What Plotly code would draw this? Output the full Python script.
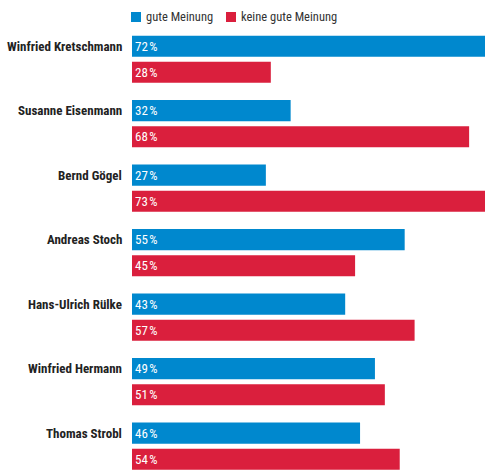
import plotly.graph_objects as go

names = ["Winfried Kretschmann", "Susanne Eisenmann", "Bernd Gögel", "Andreas Stoch",
         "Hans-Ulrich Rülke", "Winfried Hermann", "Thomas Strobl"]
gute = [72, 32, 27, 55, 43, 49, 46]
keine = [28, 68, 73, 45, 57, 51, 54]
series_names = ["gute Meinung", "keine gute Meinung"]
colors = ["#0088CE", "#DA1F3D"]

FONT = "Liberation Sans Narrow, Roboto Condensed, Arial Narrow, Roboto, sans-serif"

W, H = 485, 470
ML, MT = 132, 27
PW, PH = W - ML, H - MT


def px_x(p):
    return (p - ML) / PW


def px_y(p):
    return 1 - (p - MT) / PH


fig = go.Figure()
for vals, nm, col in zip([gute, keine], series_names, colors):
    fig.add_trace(go.Bar(
        y=names, x=vals, name=nm, orientation="h", marker=dict(color=col, line=dict(width=0)),
        text=[f"{v}\u202f%" for v in vals], textposition="inside", insidetextanchor="start",
        textfont=dict(color="white", size=13, family=FONT), hoverinfo="skip",
        cliponaxis=True, showlegend=False,
    ))

for n in names:
    fig.add_annotation(x=0, xref="paper", y=n, yref="y", text=f"<b>{n}</b>", showarrow=False,
                       xanchor="right", xshift=-8, yshift=13,
                       font=dict(size=13, color="#222222", family=FONT))

# legend (swatch + label)
legend_x = [131, 226]
for lx, nm, col in zip(legend_x, series_names, colors):
    fig.add_shape(type="rect", xref="paper", yref="paper",
                  x0=px_x(lx), x1=px_x(lx + 10), y0=px_y(22), y1=px_y(12),
                  fillcolor=col, line=dict(width=0))
    fig.add_annotation(x=px_x(lx + 13), xref="paper", y=px_y(17), yref="paper",
                       text=nm, showarrow=False, xanchor="left", yanchor="middle",
                       font=dict(size=12.5, color="#333333", family=FONT))

fig.update_layout(
    width=W, height=H,
    margin=dict(l=ML, r=0, t=MT, b=0, autoexpand=False),
    barmode="group", bargap=0.19, bargroupgap=0.192,
    plot_bgcolor="white", paper_bgcolor="white",
    font=dict(family=FONT, size=13, color="#333333"),
    showlegend=False,
    uniformtext=dict(mode="show", minsize=13),
)
fig.update_xaxes(range=[0, 71.2], visible=False, fixedrange=True)
fig.update_yaxes(range=[6.37, -0.5], showticklabels=False, showgrid=False, zeroline=False,
                 showline=False, ticks="", fixedrange=True)

fig.write_html("out.html")
